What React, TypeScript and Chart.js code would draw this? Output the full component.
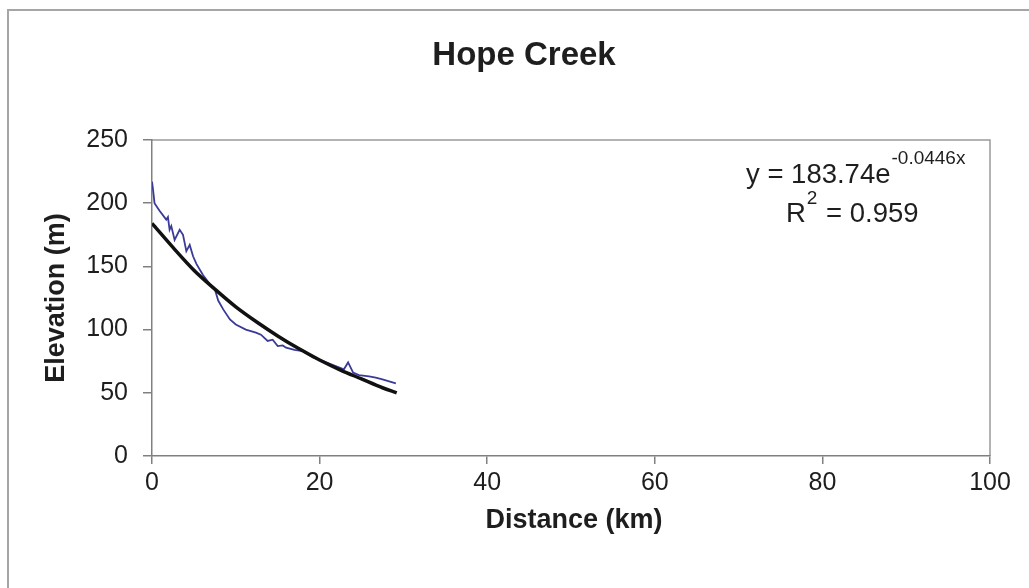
import React, { useEffect, useRef } from "react";
import { Chart, registerables } from "chart.js";

Chart.register(...registerables);

const TITLE = "Hope Creek";
const X_TITLE = "Distance (km)";
const Y_TITLE = "Elevation (m)";

// Measured elevation profile (blue)
const profileDistance = [
  0, 0.12, 0.3, 0.9, 1.7, 1.9, 2.1, 2.3, 2.7, 3.3, 3.7, 4.1, 4.5, 4.9, 5.3, 6.1,
  6.9, 7.5, 7.9, 8.5, 9.3, 10.0, 11.2, 12.4, 13.0, 13.8, 14.4, 15.0, 15.6, 16.0,
  17.0, 18.0, 19.2, 20.4, 22.0, 22.9, 23.4, 24.0, 24.7, 25.9, 26.7, 27.5, 29.1,
];
const profileElevation = [
  217, 211, 200, 194, 187, 189, 179, 182, 171, 179, 175, 162, 167, 158, 152, 143,
  136, 132, 123, 116, 108, 104, 100, 97.6, 96, 91, 92, 87, 87.5, 85.7,
  84, 83, 78, 75, 71, 68.6, 74, 66, 64, 63, 62, 60.7, 57.5,
];

// Exponential trend line (black)
const trendDistance = [0, 2.5, 5, 7.5, 10, 12.5, 15, 17.5, 20, 22.5, 25, 27.5, 29.2];
const trendElevation = [184, 165, 147, 132, 118, 106, 95, 85, 76, 68, 61, 54, 50];

const xTicks = [0, 20, 40, 60, 80, 100];
const yTicks = [0, 50, 100, 150, 200, 250];

const EQ_MAIN = "y = 183.74e";
const EQ_EXP = "-0.0446x";
const R2_LABEL = "R";
const R2_SUP = "2";
const R2_VALUE = " = 0.959";

const FONT = "'Liberation Sans', Arial, sans-serif";
const TEXT = "#1e1e1e";

const decorPlugin = {
  id: "decor",
  beforeDraw(chart: any) {
    const ctx = chart.ctx;
    const { left, right, top, bottom } = chart.chartArea;
    ctx.save();
    ctx.fillStyle = "#ffffff";
    ctx.fillRect(0, 0, chart.width, chart.height);
    // outer border (left & top visible)
    ctx.strokeStyle = "#a6a6a6";
    ctx.lineWidth = 2;
    ctx.beginPath();
    ctx.moveTo(8, chart.height);
    ctx.lineTo(8, 10);
    ctx.lineTo(chart.width, 10);
    ctx.stroke();
    // plot frame top/right
    ctx.strokeStyle = "#9a9a9a";
    ctx.lineWidth = 1.5;
    ctx.beginPath();
    ctx.moveTo(left, top);
    ctx.lineTo(right, top);
    ctx.lineTo(right, bottom);
    ctx.stroke();
    ctx.restore();
  },
  afterDraw(chart: any) {
    const ctx = chart.ctx;
    const { left, right, top, bottom } = chart.chartArea;
    ctx.save();
    ctx.fillStyle = TEXT;
    // title
    ctx.font = `bold 33px ${FONT}`;
    ctx.textAlign = "center";
    ctx.textBaseline = "middle";
    ctx.fillText(TITLE, 524, 56);
    // x title
    ctx.font = `bold 27px ${FONT}`;
    ctx.fillText(X_TITLE, (left + right) / 2 + 3, 521);
    // y title
    ctx.save();
    ctx.translate(57, (top + bottom) / 2);
    ctx.rotate(-Math.PI / 2);
    ctx.fillText(Y_TITLE, 0, 0);
    ctx.restore();
    // equation
    ctx.textAlign = "left";
    ctx.textBaseline = "alphabetic";
    ctx.font = `27.5px ${FONT}`;
    ctx.fillText(EQ_MAIN, 746, 183);
    const w1 = ctx.measureText(EQ_MAIN).width;
    ctx.font = `19px ${FONT}`;
    ctx.fillText(EQ_EXP, 746 + w1 + 1, 164);
    ctx.font = `27.5px ${FONT}`;
    ctx.fillText(R2_LABEL, 786, 222);
    const wr = ctx.measureText(R2_LABEL).width;
    ctx.font = `19px ${FONT}`;
    ctx.fillText(R2_SUP, 786 + wr + 1, 204);
    const ws = ctx.measureText(R2_SUP).width;
    ctx.font = `27.5px ${FONT}`;
    ctx.fillText(R2_VALUE, 786 + wr + ws + 2, 222);
    ctx.restore();
  },
};

export default function App() {
  const ref = useRef<HTMLCanvasElement | null>(null);

  useEffect(() => {
    if (!ref.current) return;
    const profile = profileDistance.map((d, i) => ({ x: d, y: profileElevation[i] }));
    const trend = trendDistance.map((d, i) => ({ x: d, y: trendElevation[i] }));
    const chart = new Chart(ref.current, {
      type: "line",
      data: {
        datasets: [
          {
            label: "Trend",
            data: trend,
            borderColor: "#111111",
            borderWidth: 3.5,
            pointRadius: 0,
            tension: 0.4,
            cubicInterpolationMode: "monotone",
            fill: false,
          },
          {
            label: "Hope Creek",
            data: profile,
            borderColor: "#3a3a98",
            borderWidth: 1.8,
            pointRadius: 0,
            tension: 0,
            fill: false,
          },
        ],
      },
      options: {
        animation: false,
        responsive: false,
        maintainAspectRatio: false,
        layout: { padding: { left: 0, right: 39, top: 140, bottom: 0 } },
        plugins: {
          legend: { display: false },
          tooltip: { enabled: false },
          title: { display: false },
        },
        scales: {
          x: {
            type: "linear",
            min: 0,
            max: 100,
            afterBuildTicks: (scale: any) => {
              scale.ticks = xTicks.map((v) => ({ value: v }));
            },
            afterFit: (scale: any) => {
              scale.height = 132;
            },
            ticks: {
              color: TEXT,
              font: { size: 25, family: FONT },
              padding: 4,
              maxRotation: 0,
            },
            grid: {
              drawOnChartArea: false,
              drawTicks: true,
              tickLength: 8,
              color: "#808080",
              lineWidth: 1.5,
            },
            border: { color: "#808080", width: 1.5 },
          },
          y: {
            type: "linear",
            min: 0,
            max: 250,
            afterBuildTicks: (scale: any) => {
              scale.ticks = yTicks.map((v) => ({ value: v }));
            },
            afterFit: (scale: any) => {
              scale.width = 152;
            },
            ticks: {
              color: TEXT,
              font: { size: 25, family: FONT },
              padding: 15,
            },
            grid: {
              drawOnChartArea: false,
              drawTicks: true,
              tickLength: 9,
              color: "#808080",
              lineWidth: 1.5,
            },
            border: { color: "#808080", width: 1.5 },
          },
        },
      },
      plugins: [decorPlugin],
    } as any);
    return () => chart.destroy();
  }, []);

  return (
    <div style={{ position: "absolute", left: 0, top: 0, width: 1029, height: 588, background: "#fff" }}>
      <canvas ref={ref} width={1029} height={588} style={{ display: "block" }} />
    </div>
  );
}
